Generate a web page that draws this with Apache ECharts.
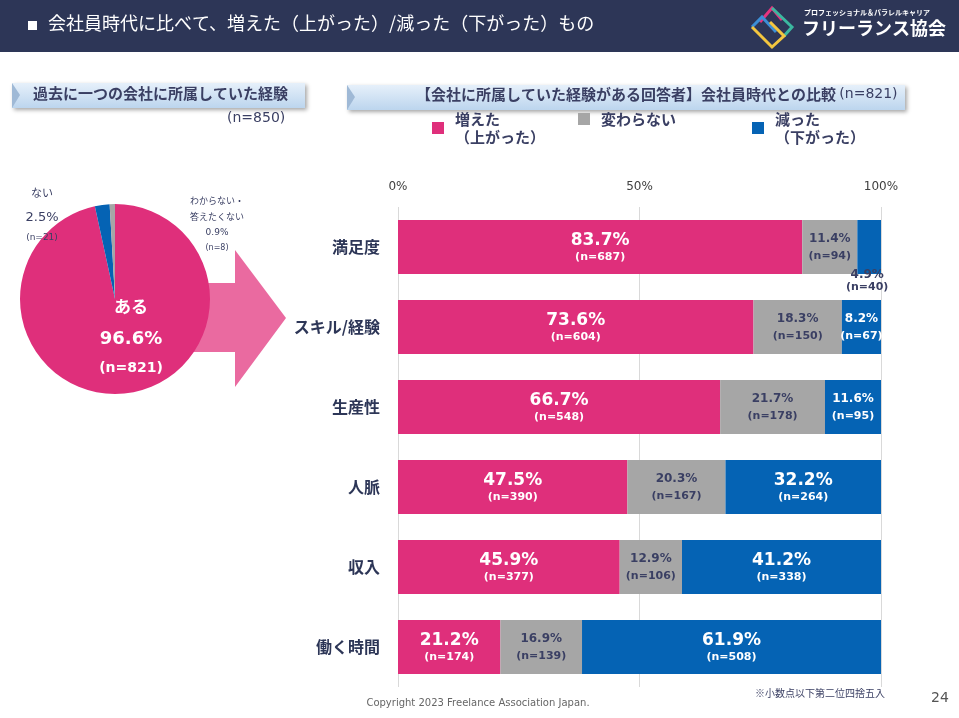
<!DOCTYPE html>
<html>
<head>
    <meta charset="utf-8">
    <title>会社員時代との比較</title>
    <script src="https://cdn.jsdelivr.net/npm/echarts@6/dist/echarts.min.js"></script>
    <style>
        html, body { margin: 0; padding: 0; background: #fff; }
    </style>
</head>
<body>
<div id="main" style="width: 959px;height:718px;"></div>
<script type="text/javascript">
    // 棒グラフのデータ
    var categories = ['満足度', 'スキル/経験', '生産性', '人脈', '収入', '働く時間'];
    var upPct = [83.7, 73.6, 66.7, 47.5, 45.9, 21.2];
    var upN = [687, 604, 548, 390, 377, 174];
    var samePct = [11.4, 18.3, 21.7, 20.3, 12.9, 16.9];
    var sameN = [94, 150, 178, 167, 106, 139];
    var downPct = [4.9, 8.2, 11.6, 32.2, 41.2, 61.9];
    var downN = [40, 67, 95, 264, 338, 508];
    var seriesNames = ['増えた\n（上がった）', '変わらない', '減った\n（下がった）'];
    var xTicks = [0, 50, 100];

    // 円グラフのデータ
    var pieNames = ['ある', 'ない', 'わからない・\n答えたくない'];
    var pieVals = [96.6, 2.5, 0.9];
    var pieN = [821, 21, 8];

    var PINK = '#df2f7b', GREY = '#a6a6a6', BLUE = '#0563b4', NAVY = '#2d3657', TXT = '#3a3f63';
    var FONT = '"DejaVu Sans", "Noto Sans CJK JP", sans-serif';
    var JP = '"Noto Sans CJK JP", sans-serif';

    var myChart = echarts.init(document.getElementById('main'));

    var rich = {
        a: { fontSize: 17, fontWeight: 'bold', color: '#fff', lineHeight: 20, fontFamily: FONT },
        b: { fontSize: 11, fontWeight: 'bold', color: '#fff', lineHeight: 13, fontFamily: FONT },
        c: { fontSize: 12, fontWeight: 'bold', color: TXT, lineHeight: 18, fontFamily: FONT },
        d: { fontSize: 11, fontWeight: 'bold', color: TXT, lineHeight: 16, fontFamily: FONT },
        e: { fontSize: 12, fontWeight: 'bold', color: '#fff', lineHeight: 18, fontFamily: FONT },
        f: { fontSize: 11, fontWeight: 'bold', color: '#fff', lineHeight: 16, fontFamily: FONT }
    };

    function barData(pct, ns, kind) {
        return pct.map(function (v, i) {
            var big = kind !== 'grey' && v >= 20;
            var outside = v < 6;
            var txt;
            if (big) {
                txt = '{a|' + v.toFixed(1) + '%}\n{b|(n=' + ns[i] + ')}';
            } else if (kind === 'grey' || outside) {
                txt = '{c|' + v.toFixed(1) + '%}\n{d|(n=' + ns[i] + ')}';
            } else {
                txt = '{e|' + v.toFixed(1) + '%}\n{f|(n=' + ns[i] + ')}';
            }
            var item = { value: v, label: { formatter: txt } };
            if (outside) {
                item.label.position = 'bottom';
                item.label.distance = -5;
                item.label.offset = [-2, 0];
                item.label.rich = { c: { lineHeight: 12 }, d: { lineHeight: 12 } };
            }
            return item;
        });
    }

    function barSeries(name, color, pct, ns, kind) {
        return {
            name: name,
            type: 'bar',
            stack: 'total',
            barWidth: 54,
            itemStyle: { color: color },
            label: { show: true, position: 'inside', rich: rich },
            data: barData(pct, ns, kind)
        };
    }

    function legendAt(left, name) {
        return {
            left: left,
            top: 110,
            padding: 0,
            icon: 'rect',
            itemWidth: 12,
            itemHeight: 12,
            selectedMode: false,
            data: [name],
            textStyle: {
                fontFamily: JP, fontSize: 15, fontWeight: 'bold', color: TXT,
                lineHeight: 18, padding: [0, 0, 0, 6]
            }
        };
    }

    // ロゴ（簡略）
    var logo = [
        { type: 'polyline', shape: { points: [[760, 22], [772, 8], [782, 20]] }, style: { stroke: '#e6337f', lineWidth: 3, fill: null } },
        { type: 'polyline', shape: { points: [[772, 8], [792, 27], [784, 36]] }, style: { stroke: '#3bb8a0', lineWidth: 3, fill: null } },
        { type: 'polyline', shape: { points: [[752, 27], [762, 17], [776, 32]] }, style: { stroke: '#3c8fd6', lineWidth: 3, fill: null } },
        { type: 'polyline', shape: { points: [[752, 27], [772, 47], [784, 36], [770, 22]] }, style: { stroke: '#f3c63f', lineWidth: 3, fill: null } }
    ];

    var option = {
        backgroundColor: '#fff',
        textStyle: { fontFamily: FONT },
        legend: [
            legendAt(432, seriesNames[0]),
            legendAt(578, seriesNames[1]),
            legendAt(752, seriesNames[2])
        ],
        grid: { left: 398, right: 78, top: 207, bottom: 31 },
        xAxis: {
            type: 'value',
            position: 'top',
            min: xTicks[0],
            max: xTicks[xTicks.length - 1],
            interval: xTicks[1] - xTicks[0],
            axisLine: { show: false },
            axisTick: { show: false },
            axisLabel: { formatter: '{value}%', color: '#404040', fontSize: 12, margin: 14, fontFamily: FONT },
            splitLine: { lineStyle: { color: '#d9d9d9', width: 1 } }
        },
        yAxis: {
            type: 'category',
            inverse: true,
            data: categories,
            axisLine: { show: false },
            axisTick: { show: false },
            axisLabel: { color: NAVY, fontSize: 16, fontWeight: 'bold', margin: 18, fontFamily: JP }
        },
        series: [
            barSeries(seriesNames[0], PINK, upPct, upN, 'pink'),
            barSeries(seriesNames[1], GREY, samePct, sameN, 'grey'),
            barSeries(seriesNames[2], BLUE, downPct, downN, 'blue'),
            {
                type: 'pie',
                center: [115, 299],
                radius: 95,
                startAngle: 90,
                clockwise: true,
                z: 5,
                silent: true,
                label: { show: false },
                labelLine: { show: false },
                itemStyle: { borderWidth: 0 },
                data: pieNames.map(function (n, i) {
                    return { name: n, value: pieVals[i], itemStyle: { color: [PINK, BLUE, GREY][i] } };
                })
            }
        ],
        graphic: [
            // ヘッダー
            { type: 'rect', z: 0, shape: { x: 0, y: 0, width: 959, height: 52 }, style: { fill: NAVY } },
            { type: 'rect', z: 1, shape: { x: 28, y: 21, width: 9, height: 9 }, style: { fill: '#fff' } },
            { type: 'text', z: 1, left: 48, top: 14, style: { text: '会社員時代に比べて、増えた（上がった）/減った（下がった）もの', fill: '#fff', font: '18px ' + JP } },
            { type: 'group', z: 1, children: logo },
            { type: 'text', z: 1, left: 804, top: 9, style: { text: 'プロフェッショナル＆パラレルキャリア', fill: '#fff', font: 'bold 7px ' + JP } },
            { type: 'text', z: 1, left: 802, top: 19, style: { text: 'フリーランス協会', fill: '#fff', font: 'bold 18px ' + JP } },

            // 見出しリボン（左）
            {
                type: 'rect', z: 1, shape: { x: 12, y: 83, width: 293, height: 25 },
                style: {
                    fill: new echarts.graphic.LinearGradient(0, 0, 0, 1, [{ offset: 0, color: '#e6f0fa' }, { offset: 1, color: '#bcd5ee' }]),
                    shadowBlur: 4, shadowColor: 'rgba(0,0,0,0.35)', shadowOffsetX: 2, shadowOffsetY: 2
                }
            },
            { type: 'polygon', z: 2, shape: { points: [[12, 83], [20, 95], [12, 108]] }, style: { fill: '#9fb9d6' } },
            { type: 'text', z: 3, left: 33, top: 86, style: { text: '過去に一つの会社に所属していた経験', fill: TXT, font: 'bold 15px ' + JP } },
            { type: 'text', z: 3, left: 227, top: 111, style: { text: '(n=850)', fill: TXT, font: '14px ' + FONT } },

            // 見出しリボン（右）
            {
                type: 'rect', z: 1, shape: { x: 347, y: 85, width: 558, height: 25 },
                style: {
                    fill: new echarts.graphic.LinearGradient(0, 0, 0, 1, [{ offset: 0, color: '#e6f0fa' }, { offset: 1, color: '#bcd5ee' }]),
                    shadowBlur: 4, shadowColor: 'rgba(0,0,0,0.35)', shadowOffsetX: 2, shadowOffsetY: 2
                }
            },
            { type: 'polygon', z: 2, shape: { points: [[347, 85], [355, 97], [347, 110]] }, style: { fill: '#9fb9d6' } },
            {
                type: 'text', z: 3, left: 416, top: 87,
                style: {
                    text: '{m|【会社に所属していた経験がある回答者】会社員時代との比較} {n|(n=821)}',
                    rich: {
                        m: { fill: TXT, color: TXT, fontSize: 15, fontWeight: 'bold', fontFamily: JP },
                        n: { fill: TXT, color: TXT, fontSize: 14, fontFamily: FONT }
                    }
                }
            },

            // 矢印
            {
                type: 'polygon', z: 0,
                shape: { points: [[190, 283], [235, 283], [235, 250], [286, 318], [235, 387], [235, 352], [190, 352]] },
                style: { fill: '#ea6aa0' }
            },

            // 円グラフのラベル
            { type: 'text', z: 100, style: { x: 131, y: 307, text: pieNames[0], fill: '#fff', font: 'bold 17px ' + JP, textAlign: 'center', textVerticalAlign: 'middle' } },
            { type: 'text', z: 100, style: { x: 131, y: 339, text: pieVals[0].toFixed(1) + '%', fill: '#fff', font: 'bold 18px ' + FONT, textAlign: 'center', textVerticalAlign: 'middle' } },
            { type: 'text', z: 100, style: { x: 131, y: 368, text: '(n=' + pieN[0] + ')', fill: '#fff', font: 'bold 14px ' + FONT, textAlign: 'center', textVerticalAlign: 'middle' } },

            { type: 'text', z: 100, style: { x: 42, y: 193, text: pieNames[1], fill: TXT, font: '11px ' + JP, textAlign: 'center', textVerticalAlign: 'middle' } },
            { type: 'text', z: 100, style: { x: 42, y: 218, text: pieVals[1].toFixed(1) + '%', fill: TXT, font: '13px ' + FONT, textAlign: 'center', textVerticalAlign: 'middle' } },
            { type: 'text', z: 100, style: { x: 42, y: 238, text: '(n=' + pieN[1] + ')', fill: TXT, font: '9px ' + FONT, textAlign: 'center', textVerticalAlign: 'middle' } },

            { type: 'text', z: 100, style: { x: 217, y: 209, text: pieNames[2], fill: TXT, font: '9px ' + JP, textAlign: 'center', textVerticalAlign: 'middle', lineHeight: 16 } },
            { type: 'text', z: 100, style: { x: 217, y: 233, text: pieVals[2].toFixed(1) + '%', fill: TXT, font: '9px ' + FONT, textAlign: 'center', textVerticalAlign: 'middle' } },
            { type: 'text', z: 100, style: { x: 217, y: 248, text: '(n=' + pieN[2] + ')', fill: TXT, font: '8px ' + FONT, textAlign: 'center', textVerticalAlign: 'middle' } },

            // フッター
            { type: 'text', z: 1, style: { x: 820, y: 693, text: '※小数点以下第二位四捨五入', fill: TXT, font: '10px ' + JP, textAlign: 'center', textVerticalAlign: 'middle' } },
            { type: 'text', z: 1, style: { x: 478, y: 703, text: 'Copyright 2023 Freelance Association Japan.', fill: '#666', font: '10px ' + FONT, textAlign: 'center', textVerticalAlign: 'middle' } },
            { type: 'text', z: 1, style: { x: 940, y: 698, text: '24', fill: '#555', font: '14px ' + FONT, textAlign: 'center', textVerticalAlign: 'middle' } }
        ]
    };

    myChart.setOption(option);
</script>
</body>
</html>
